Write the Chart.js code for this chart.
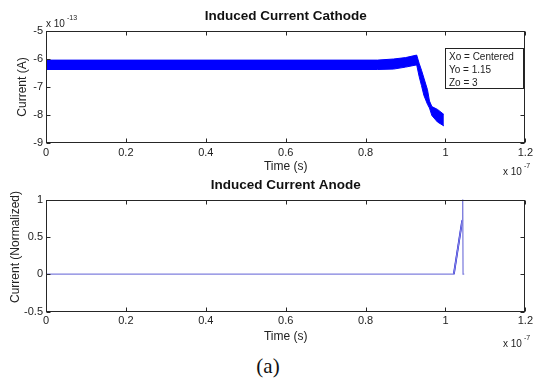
<!DOCTYPE html>
<html>
<head>
<meta charset="utf-8">
<script src="https://cdn.jsdelivr.net/npm/chart.js@4/dist/chart.umd.min.js"></script>
<style>
  html, body { margin: 0; padding: 0; background: #fff; }
  #wrap { position: relative; width: 536px; height: 380px; overflow: hidden; }
  #cathode { position: absolute; left: 0; top: 0; }
  #anode { position: absolute; left: 0; top: 180px; }
  #caption {
    position: absolute; left: 0; top: 354px; width: 536px; line-height: 26px;
    text-align: center; color: #111;
    font: 21px "Liberation Serif", "Times New Roman", serif;
  }
</style>
</head>
<body>
<div id="wrap">
  <canvas id="cathode" width="536" height="180"></canvas>
  <canvas id="anode" width="536" height="170"></canvas>
  <div id="caption">(a)</div>
</div>
<script>
// time axis in units of 1e-7 s
const timeTicks = [0, 0.2, 0.4, 0.6, 0.8, 1, 1.2];

// cathode current (x 1e-13 A): envelope of the fast oscillation
const cathodeTime  = [0, 0.83, 0.87, 0.90, 0.928, 0.934, 0.94, 0.946, 0.955, 0.96, 0.966, 0.98, 0.996];
const cathodeUpper = [-6.04, -6.04, -6.0, -5.95, -5.86, -6.15, -6.4, -6.68, -7.1, -7.5, -7.7, -7.8, -7.98];
const cathodeLower = [-6.375, -6.375, -6.36, -6.29, -6.21, -6.62, -6.95, -7.3, -7.62, -7.75, -8.02, -8.25, -8.39];
const cathodeTicks = [-9, -8, -7, -6, -5];

// anode current (normalized)
const anodeTime      = [0, 1.021, 1.042, 1.043, 1.044, 1.047];
const anodeValue     = [0, 0, 0.72, 1.3, 0, 0];
const anodeRiseTime  = [1.021, 1.042];
const anodeRiseValue = [0, 0.72];
const anodeTicks = [-0.5, 0, 0.5, 1];

const legendLines = ["Xo = Centered", "Yo = 1.15", "Zo = 3"];

(function () {
  "use strict";

  const TXT = "#222";
  const BLUE = "rgb(0,0,255)";
  const FONT = "'Liberation Sans', Arial, sans-serif";
  Chart.defaults.font.family = FONT;

  function pts(xs, ys) {
    return xs.map((x, i) => ({ x: x, y: ys[i] }));
  }

  function fmt(v) {
    return String(Math.round(v * 10) / 10);
  }

  // caja completa + ticks hacia dentro (estilo MATLAB)
  const boxTicks = {
    id: "boxTicks",
    afterDatasetsDraw(chart) {
      const { ctx, chartArea: a, scales: { x, y } } = chart;
      const L = Math.round(a.left) + 0.5, R = Math.round(a.right) - 0.5;
      const T = Math.round(a.top) + 0.5, B = Math.round(a.bottom) - 0.5;
      ctx.save();
      ctx.strokeStyle = "#262626";
      ctx.lineWidth = 1;
      ctx.strokeRect(L, T, R - L, B - T);
      ctx.beginPath();
      x.ticks.forEach(t => {
        const px = Math.round(x.getPixelForValue(t.value)) + 0.5;
        ctx.moveTo(px, B); ctx.lineTo(px, B - 4);
        ctx.moveTo(px, T); ctx.lineTo(px, T + 4);
      });
      y.ticks.forEach(t => {
        const py = Math.round(y.getPixelForValue(t.value)) + 0.5;
        ctx.moveTo(L, py); ctx.lineTo(L + 4, py);
        ctx.moveTo(R, py); ctx.lineTo(R - 4, py);
      });
      ctx.stroke();
      ctx.restore();
    }
  };

  // textos sueltos: títulos, exponentes, cuadro de anotación
  const notes = {
    id: "notes",
    afterDraw(chart, args, opts) {
      const ctx = chart.ctx;
      const a = chart.chartArea;
      (opts.items || []).forEach(n => {
        ctx.save();
        ctx.font = n.font;
        ctx.fillStyle = n.color || TXT;
        ctx.textAlign = n.align || "left";
        ctx.textBaseline = n.baseline || "alphabetic";
        ctx.translate(n.x === "mid" ? (a.left + a.right) / 2 : n.x, n.y);
        if (n.rotate) ctx.rotate(n.rotate);
        ctx.fillText(n.text, 0, 0);
        ctx.restore();
      });
      const b = opts.box;
      if (b) {
        ctx.save();
        ctx.fillStyle = "#fff";
        ctx.fillRect(b.x, b.y, b.w, b.h);
        ctx.strokeStyle = "#222";
        ctx.lineWidth = 1;
        ctx.strokeRect(b.x + 0.5, b.y + 0.5, b.w, b.h);
        ctx.fillStyle = TXT;
        ctx.font = "10px " + FONT;
        ctx.textBaseline = "middle";
        b.lines.forEach((s, i) => ctx.fillText(s, b.x + 4, b.y + 9.5 + i * 12.7));
        ctx.restore();
      }
    }
  };

  function xScale(h) {
    return {
      type: "linear", min: 0, max: 1.2,
      afterBuildTicks: s => { s.ticks = timeTicks.map(v => ({ value: v })); },
      afterFit: s => { s.height = h; },
      grid: { display: false, drawTicks: false },
      border: { display: false },
      ticks: { padding: 3, color: TXT, font: { size: 11 }, maxRotation: 0, autoSkip: false, callback: fmt },
      title: { display: true, text: "Time (s)", color: TXT, font: { size: 12 }, padding: { top: 0, bottom: 6 } }
    };
  }

  function yScale(min, max, tickList) {
    return {
      min: min, max: max,
      afterBuildTicks: s => { s.ticks = tickList.map(v => ({ value: v })); },
      afterFit: s => { s.width = 46; },
      grid: { display: false, drawTicks: false },
      border: { display: false },
      ticks: { padding: 3, color: TXT, font: { size: 11 }, autoSkip: false, callback: fmt }
    };
  }

  function exponent(x, y, base, sup) {
    return [
      { text: base, x: x, y: y, font: "10px " + FONT },
      { text: sup, x: x + 21, y: y - 7, font: "7px " + FONT }
    ];
  }

  // -----------------------------
  // Gráfica superior — cátodo
  // -----------------------------
  new Chart(document.getElementById("cathode"), {
    type: "line",
    data: {
      datasets: [
        { data: pts(cathodeTime, cathodeUpper), borderColor: BLUE, backgroundColor: BLUE,
          borderWidth: 1, pointRadius: 0, fill: "+1" },
        { data: pts(cathodeTime, cathodeLower), borderColor: BLUE,
          borderWidth: 1, pointRadius: 0, fill: false }
      ]
    },
    options: {
      responsive: false,
      animation: false,
      layout: { autoPadding: false, padding: { top: 31, right: 9, left: 0, bottom: 0 } },
      plugins: {
        legend: { display: false },
        tooltip: { enabled: false },
        notes: {
          items: [
            { text: "Induced Current Cathode", x: "mid", y: 16, align: "center", baseline: "middle",
              font: "bold 13.5px " + FONT, color: "#111" },
            { text: "Current (A)", x: 22.5, y: 87, align: "center", baseline: "middle",
              rotate: -Math.PI / 2, font: "12px " + FONT }
          ].concat(exponent(46, 26.5, "x 10", "-13"), exponent(503, 175, "x 10", "-7")),
          box: { x: 445, y: 48, w: 78, h: 40, lines: legendLines }
        }
      },
      scales: { x: xScale(37), y: yScale(-9, -5, cathodeTicks) }
    },
    plugins: [boxTicks, notes]
  });

  // -----------------------------
  // Gráfica inferior — ánodo
  // -----------------------------
  new Chart(document.getElementById("anode"), {
    type: "line",
    data: {
      datasets: [
        { data: pts(anodeTime, anodeValue), borderColor: "rgb(128,128,222)",
          borderWidth: 1.3, pointRadius: 0, fill: false },
        { data: pts(anodeRiseTime, anodeRiseValue), borderColor: "rgb(10,10,220)",
          borderWidth: 1.8, pointRadius: 0, fill: false }
      ]
    },
    options: {
      responsive: false,
      animation: false,
      layout: { autoPadding: false, padding: { top: 19.5, right: 9, left: 0, bottom: 0 } },
      plugins: {
        legend: { display: false },
        tooltip: { enabled: false },
        notes: {
          items: [
            { text: "Induced Current Anode", x: "mid", y: 5.5, align: "center", baseline: "middle",
              font: "bold 13.5px " + FONT, color: "#111" },
            { text: "Current (Normalized)", x: 15.5, y: 67, align: "center", baseline: "middle",
              rotate: -Math.PI / 2, font: "12px " + FONT }
          ].concat(exponent(503, 167, "x 10", "-7"))
        }
      },
      scales: { x: xScale(38.5), y: yScale(-0.5, 1, anodeTicks) }
    },
    plugins: [boxTicks, notes]
  });
})();
</script>
</body>
</html>
